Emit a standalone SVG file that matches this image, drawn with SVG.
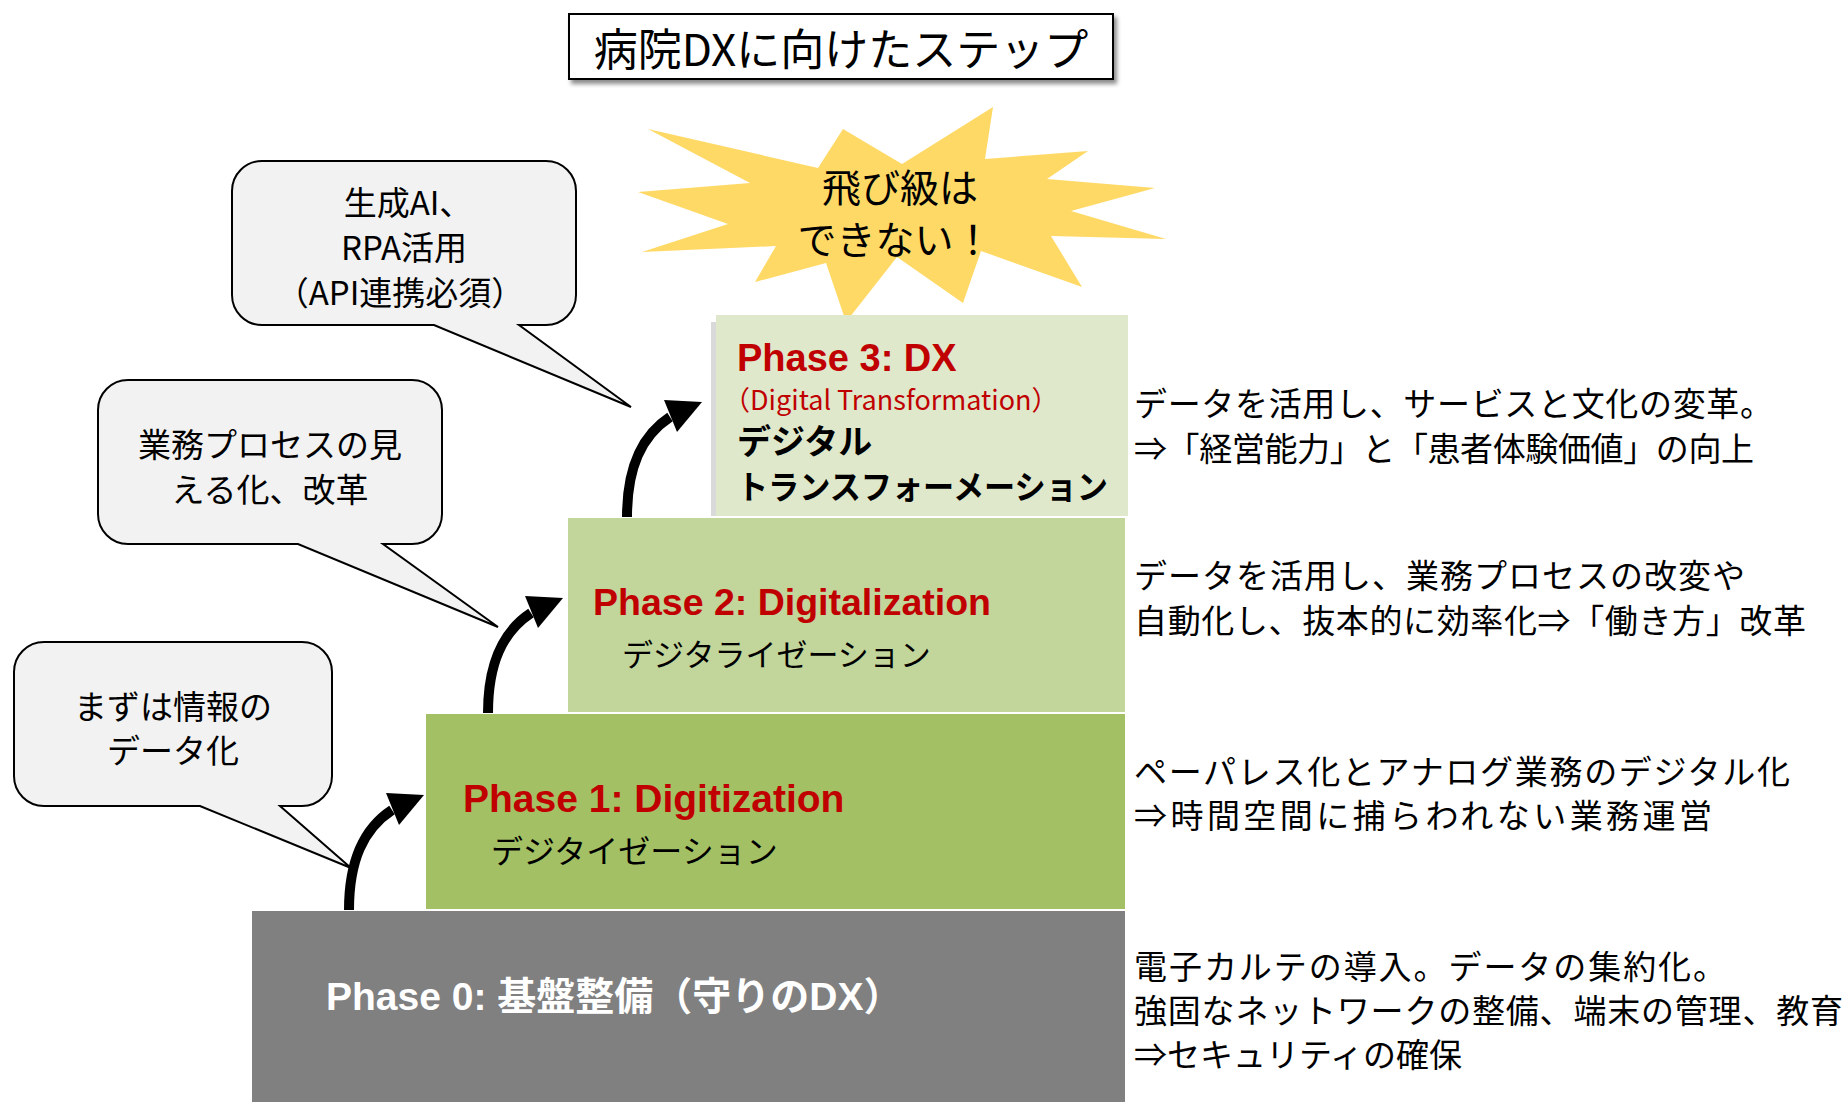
<svg xmlns="http://www.w3.org/2000/svg" width="1847" height="1102" viewBox="0 0 1847 1102">
<defs>
<style>
 .jp{font-family:"Noto Sans CJK JP","Noto Sans CJK SC",sans-serif;}
 .lat{font-family:"Liberation Sans","Noto Sans CJK JP",sans-serif;font-weight:bold;}
 .bubble{fill:#f2f2f2;stroke:#000;stroke-width:2;stroke-linejoin:miter;}
 .desc{font-size:33px;fill:#000;}
 .btxt{font-size:33px;text-anchor:middle;fill:#000;}
 .red{fill:#c00000;}
 .kana{font-size:32px;fill:#000;}
</style>
<filter id="shadow" x="-5%" y="-20%" width="115%" height="160%">
 <feDropShadow dx="3" dy="4" stdDeviation="2" flood-color="#000" flood-opacity="0.45"/>
</filter>
<g id="curvedArrow">
 <path d="M0 -1 C0 -50 14 -82 43 -101" fill="none" stroke="#000" stroke-width="10"/>
 <polygon points="37,-118 75,-116 50,-86" fill="#000"/>
</g>
</defs>
<rect width="1847" height="1102" fill="#fff"/>

<g id="title">
 <rect x="569" y="14" width="544" height="65" fill="#fff" stroke="#000" stroke-width="2" filter="url(#shadow)"/>
 <text class="jp" x="841" y="66" font-size="44" text-anchor="middle">病院DXに向けたステップ</text>
</g>

<g id="burst">
 <polygon fill="#ffd966" points="648,129 818,168 843,129 902,164 993,107 985,159 1088,151 1047,179 1155,188 1071,211 1166,239 1051,236 1082,287 981,251 963,303 897,257 846,322 826,263 755,282 776,246 642,252 728,224 638,192 750,183"/>
 <text class="jp" x="900" y="202" font-size="39" text-anchor="middle">飛び級は</text>
 <text class="jp" x="895" y="254" font-size="39" text-anchor="middle">できない！</text>
</g>

<g id="phase0">
 <rect x="252" y="911" width="873" height="191" fill="#808080"/>
 <text class="lat" x="326" y="1010" font-size="39" fill="#fff">Phase 0: 基盤整備（守りのDX）</text>
</g>

<g id="phase1">
 <rect x="426" y="714" width="699" height="195" fill="#a3c064"/>
 <text class="lat red" x="463" y="812" font-size="39">Phase 1: Digitization</text>
 <text class="jp kana" x="491" y="863">デジタイゼーション</text>
</g>

<g id="phase2">
 <rect x="568" y="518" width="557" height="194" fill="#c2d59b"/>
 <text class="lat red" x="593" y="615" font-size="37.5">Phase 2: Digitalization</text>
 <text class="jp" x="622" y="666" font-size="31">デジタライゼーション</text>
</g>

<g id="phase3">
 <rect x="711" y="322" width="6" height="194" fill="#d9d9d9"/>
 <rect x="716" y="315" width="412" height="201" fill="#dfe8cb"/>
 <text class="lat red" x="737" y="371" font-size="38">Phase 3: DX</text>
 <text class="jp red" x="723" y="410" font-size="27">（Digital Transformation）</text>
 <text class="jp" x="737" y="454" font-size="34" font-weight="bold">デジタル</text>
 <text class="jp" x="737" y="499" font-size="33" font-weight="bold" textLength="371" lengthAdjust="spacingAndGlyphs">トランスフォーメーション</text>
</g>

<g id="desc3" class="jp desc">
 <text x="1134" y="416" textLength="639">データを活用し、サービスと文化の変革。</text>
 <text x="1134" y="461" textLength="620">⇒「経営能力」と「患者体験価値」の向上</text>
</g>
<g id="desc2" class="jp desc">
 <text x="1134" y="588" textLength="611">データを活用し、業務プロセスの改変や</text>
 <text x="1134" y="633" textLength="672">自動化し、抜本的に効率化⇒「働き方」改革</text>
</g>
<g id="desc1" class="jp desc">
 <text x="1134" y="784" textLength="656">ペーパレス化とアナログ業務のデジタル化</text>
 <text x="1134" y="828" textLength="578">⇒時間空間に捕らわれない業務運営</text>
</g>
<g id="desc0" class="jp desc">
 <text x="1134" y="979" textLength="592">電子カルテの導入。データの集約化。</text>
 <text x="1134" y="1023" textLength="709">強固なネットワークの整備、端末の管理、教育</text>
 <text x="1134" y="1067">⇒セキュリティの確保</text>
</g>

<g id="bubbleAI">
 <path class="bubble" d="M262 161 H546 A30 30 0 0 1 576 191 V295 A30 30 0 0 1 546 325 H519 L631 407 L434 325 H262 A30 30 0 0 1 232 295 V191 A30 30 0 0 1 262 161 Z"/>
 <text class="jp btxt" x="408" y="215">生成AI、</text>
 <text class="jp btxt" x="404" y="260">RPA活用</text>
 <text class="jp btxt" x="400" y="305">（API連携必須）</text>
</g>

<g id="bubbleProcess">
 <path class="bubble" d="M128 380 H412 A30 30 0 0 1 442 410 V514 A30 30 0 0 1 412 544 H383 L498 627 L298 544 H128 A30 30 0 0 1 98 514 V410 A30 30 0 0 1 128 380 Z"/>
 <text class="jp btxt" x="270" y="457" font-size="34">業務プロセスの見</text>
 <text class="jp btxt" x="270" y="502" font-size="34">える化、改革</text>
</g>

<g id="bubbleData">
 <path class="bubble" d="M44 642 H302 A30 30 0 0 1 332 672 V776 A30 30 0 0 1 302 806 H280 L351 868 L200 806 H44 A30 30 0 0 1 14 776 V672 A30 30 0 0 1 44 642 Z"/>
 <text class="jp btxt" x="173" y="719">まずは情報の</text>
 <text class="jp btxt" x="173" y="763">データ化</text>
</g>

<g id="connectors">
 <use href="#curvedArrow" x="349" y="911"/>
 <use href="#curvedArrow" x="488" y="714"/>
 <use href="#curvedArrow" x="627" y="518"/>
</g>
</svg>
